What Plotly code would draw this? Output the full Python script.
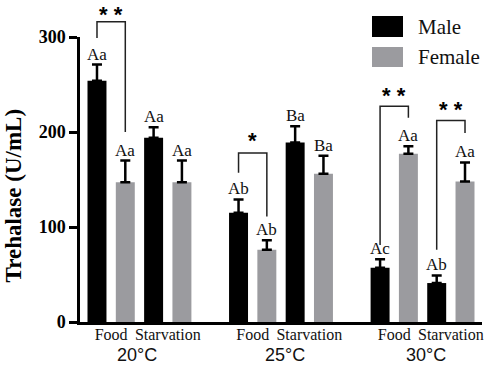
import plotly.graph_objects as go

# ---- data ----
temperatures = ["20°C", "25°C", "30°C"]
treatments = ["Food", "Starvation"]
male_mean = [254, 194, 115, 189, 57, 41]
male_err = [17, 11, 14, 17, 9, 8]
female_mean = [147, 147, 76, 156, 177, 148]
female_err = [23, 23, 10, 19, 8, 20]
male_letters = ["Aa", "Aa", "Ab", "Ba", "Ac", "Ab"]
female_letters = ["Aa", "Aa", "Ab", "Ba", "Aa", "Aa"]
# significance brackets: (bar index of pair, top value, left end, right end, label)
sig_pair = [0, 2, 4, 5]
sig_top = [316, 178, 227, 212]
sig_left_end = [299, 157, 81, 76]
sig_right_end = [200, 111, 215, 199]
sig_label = ["* *", "*", "* *", "* *"]
sig_label_y = [328, 195, 243, 228]
y_ticks = [0, 100, 200, 300]

# ---- layout constants ----
W, H = 484, 365
ML, MR, MT, MB = 80, 2, 0, 43
PW, PH = W - ML - MR, H - MT - MB
YMAX = 300
SERIF = "Liberation Serif"
SANS = "Liberation Sans"
BLACK = "#000000"
GREY = "#9b9b9f"

def px_x(px):
    return (px - ML) / PW

def px_y(py):
    return (H - MB - py) / PH

# bar positions: 4 bars per temperature, gap of one slot between groups
male_x, female_x, tick_x, tick_text = [], [], [], []
for g in range(len(temperatures)):
    for t in range(len(treatments)):
        base = g * 5 + t * 2
        male_x.append(base)
        female_x.append(base + 1)
        tick_x.append(base + 0.5)
        tick_text.append(treatments[t])

fig = go.Figure()
err_style = dict(type="data", symmetric=False, color=BLACK, thickness=2.5, width=5)
fig.add_trace(go.Bar(
    x=male_x, y=male_mean, width=0.67, name="Male",
    marker=dict(color=BLACK, line=dict(width=0)),
    error_y=dict(array=male_err, arrayminus=[0] * len(male_err), **err_style),
    showlegend=False,
))
fig.add_trace(go.Bar(
    x=female_x, y=female_mean, width=0.67, name="Female",
    marker=dict(color=GREY, line=dict(width=0)),
    error_y=dict(array=female_err, arrayminus=[0] * len(female_err), **err_style),
    showlegend=False,
))

annotations = []
shapes = []
# letters above bars
for xs, ms, es, ls in [(male_x, male_mean, male_err, male_letters),
                       (female_x, female_mean, female_err, female_letters)]:
    for x, m, e, l in zip(xs, ms, es, ls):
        annotations.append(dict(x=x, y=m + e, xref="x", yref="y", text=l,
                                showarrow=False, yanchor="bottom", yshift=-1,
                                font=dict(family=SERIF, size=17, color="#111")))

# significance brackets
for i, top, le, re, lab, ly in zip(sig_pair, sig_top, sig_left_end, sig_right_end,
                                   sig_label, sig_label_y):
    xl, xr = male_x[i], female_x[i]
    path = (f"M {xl} {le / YMAX} L {xl} {top / YMAX} "
            f"L {xr} {top / YMAX} L {xr} {re / YMAX}")
    shapes.append(dict(type="path", xref="x", yref="y domain", path=path,
                       line=dict(color="#222", width=1.5)))
    annotations.append(dict(x=(xl + xr) / 2, y=ly / YMAX, xref="x", yref="y domain",
                            text=f"<b>{lab}</b>",
                            showarrow=False, yanchor="middle", yshift=-4,
                            font=dict(family=SANS, size=22, color=BLACK)))

# temperature labels
temp_x = [1.41, 6.64, 11.63]
for tx, tl in zip(temp_x, temperatures):
    annotations.append(dict(x=tx, y=px_y(355), xref="x", yref="paper", text=tl,
                            showarrow=False, yanchor="middle",
                            font=dict(family=SANS, size=18, color="#111")))

# y axis title
annotations.append(dict(x=px_x(12.5), y=px_y(196), xref="paper", yref="paper",
                        text="<b>Trehalase (U/mL)</b>", textangle=-90,
                        showarrow=False, xanchor="center", yanchor="middle",
                        font=dict(family=SERIF, size=23, color=BLACK)))

# legend (drawn manually)
for name, col, y0, y1 in [("Male", BLACK, 16, 37), ("Female", GREY, 47, 67)]:
    shapes.append(dict(type="rect", xref="paper", yref="paper",
                       x0=px_x(372), x1=px_x(403), y0=px_y(y1), y1=px_y(y0),
                       fillcolor=col, line=dict(width=0)))
    annotations.append(dict(x=px_x(416), y=px_y((y0 + y1) / 2), xref="paper",
                            yref="paper", text=name, showarrow=False,
                            xanchor="left", yanchor="middle",
                            font=dict(family=SERIF, size=21, color="#111")))

fig.update_layout(
    width=W, height=H,
    margin=dict(l=ML, r=MR, t=MT, b=MB, autoexpand=False),
    paper_bgcolor="white", plot_bgcolor="white",
    barmode="overlay",
    shapes=shapes, annotations=annotations,
    xaxis=dict(range=[-0.6, 13.6], tickvals=tick_x, ticktext=tick_text,
               showline=True, linecolor=BLACK, linewidth=2.5, ticks="",
               showgrid=False, zeroline=False, ticklabelstandoff=-4,
               automargin=False,
               tickfont=dict(family=SERIF, size=16, color="#111")),
    yaxis=dict(range=[0, YMAX], domain=[0, 285 / PH], tickvals=y_ticks,
               showline=True, linecolor=BLACK, linewidth=2.5,
               ticks="outside", ticklen=8, tickwidth=2.5, tickcolor=BLACK,
               showgrid=False, zeroline=False, automargin=False,
               tickfont=dict(family=SERIF, size=18, color=BLACK, weight="bold")),
)

fig.write_html("out.html",
               config={"displayModeBar": False},
               post_script="document.body.style.margin='0';"
                           "document.body.style.overflow='hidden';")
